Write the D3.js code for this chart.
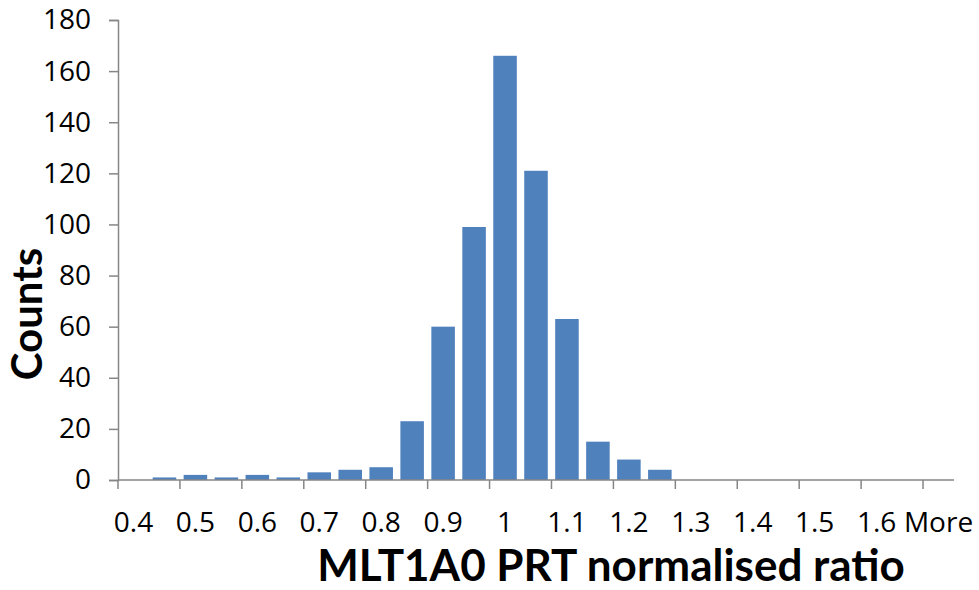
<!DOCTYPE html>
<html>
<head>
<meta charset="utf-8">
<script src="https://cdn.jsdelivr.net/npm/d3@7"></script>
<style>
	body { margin: 0; background: #fff; }
	svg { display: block; }
</style>
</head>
<body>
<div id="chart"></div>
<script>
// Histogram bins (bin labels as shown by the spreadsheet) and counts
const bins = ['0.4', '0.45', '0.5', '0.55', '0.6', '0.65', '0.7', '0.75', '0.8', '0.85',
	'0.9', '0.95', '1', '1.05', '1.1', '1.15', '1.2', '1.25', '1.3', '1.35',
	'1.4', '1.45', '1.5', '1.55', '1.6', '1.65', 'More'];
const counts = [0, 1, 2, 1, 2, 1, 3, 4, 5, 23,
	60, 99, 166, 121, 63, 15, 8, 4, 0, 0,
	0, 0, 0, 0, 0, 0, 0];
const yTicks = [0, 20, 40, 60, 80, 100, 120, 140, 160, 180];

const data = bins.map((b, i) => ({ bin: b, count: counts[i] }));

const totalWidth = 979;
const totalHeight = 590;
const margin = { top: 20, right: 25, bottom: 110, left: 118 };
const width = totalWidth - margin.left - margin.right;
const height = totalHeight - margin.top - margin.bottom;

const axisColor = '#868686';
const barColor = '#4f81bd';

const svg = d3
	.select('#chart')
	.append('svg')
	.attr('width', totalWidth)
	.attr('height', totalHeight)
	.append('g')
	.attr('transform', `translate(${margin.left},${margin.top})`);

// Scales (bars centred in their slot, like a spreadsheet category axis)
const x = d3.scaleBand().domain(bins).range([0, width]).paddingInner(0.24).paddingOuter(0.12);
const y = d3.scaleLinear().domain([0, 180]).range([height, 0]);
const step = x.step();

// Bars
svg.selectAll('rect.bar')
	.data(data)
	.enter()
	.append('rect')
	.attr('class', 'bar')
	.attr('x', (d) => x(d.bin))
	.attr('y', (d) => y(d.count))
	.attr('width', x.bandwidth())
	.attr('height', (d) => height - y(d.count))
	.attr('fill', barColor);

// Y axis
const yAxis = svg.append('g')
	.call(d3.axisLeft(y).tickValues(yTicks).tickSize(9).tickPadding(18));
yAxis.select('.domain').attr('stroke', axisColor).attr('stroke-width', 1.5);
yAxis.selectAll('.tick line').attr('stroke', axisColor).attr('stroke-width', 1.5);
yAxis.selectAll('.tick text')
	.attr('fill', '#000')
	.style('font-family', '"Open Sans", sans-serif')
	.style('font-size', '28px');

// X axis: ticks on the slot boundary before every second bin, labels on those bins
const xAxis = svg.append('g').attr('transform', `translate(0,${height})`);
xAxis.append('line')
	.attr('x1', 0)
	.attr('x2', width)
	.attr('stroke', axisColor)
	.attr('stroke-width', 1.5);

const tickBins = bins.filter((b, i) => i % 2 === 0);
xAxis.selectAll('line.tick')
	.data(tickBins)
	.enter()
	.append('line')
	.attr('class', 'tick')
	.attr('x1', (d) => bins.indexOf(d) * step)
	.attr('x2', (d) => bins.indexOf(d) * step)
	.attr('y1', 0)
	.attr('y2', 9)
	.attr('stroke', axisColor)
	.attr('stroke-width', 1.5);

xAxis.selectAll('text.label')
	.data(tickBins)
	.enter()
	.append('text')
	.attr('class', 'label')
	.attr('x', (d) => x(d) + x.bandwidth() / 2)
	.attr('y', 52)
	.attr('text-anchor', 'middle')
	.style('font-family', '"Open Sans", sans-serif')
	.style('font-size', '28px')
	.text((d) => d);

// Axis titles
svg.append('text')
	.attr('transform', `translate(${42 - margin.left},${314 - margin.top}) rotate(-90)`)
	.attr('text-anchor', 'middle')
	.style('font-family', 'Lato, sans-serif')
	.style('font-weight', 'bold')
	.style('font-size', '42px')
	.text('Counts');

svg.append('text')
	.attr('x', 611 - margin.left)
	.attr('y', 581 - margin.top)
	.attr('text-anchor', 'middle')
	.style('font-family', 'Lato, sans-serif')
	.style('font-weight', 'bold')
	.style('font-size', '44px')
	.text('MLT1A0 PRT normalised ratio');
</script>
</body>
</html>
